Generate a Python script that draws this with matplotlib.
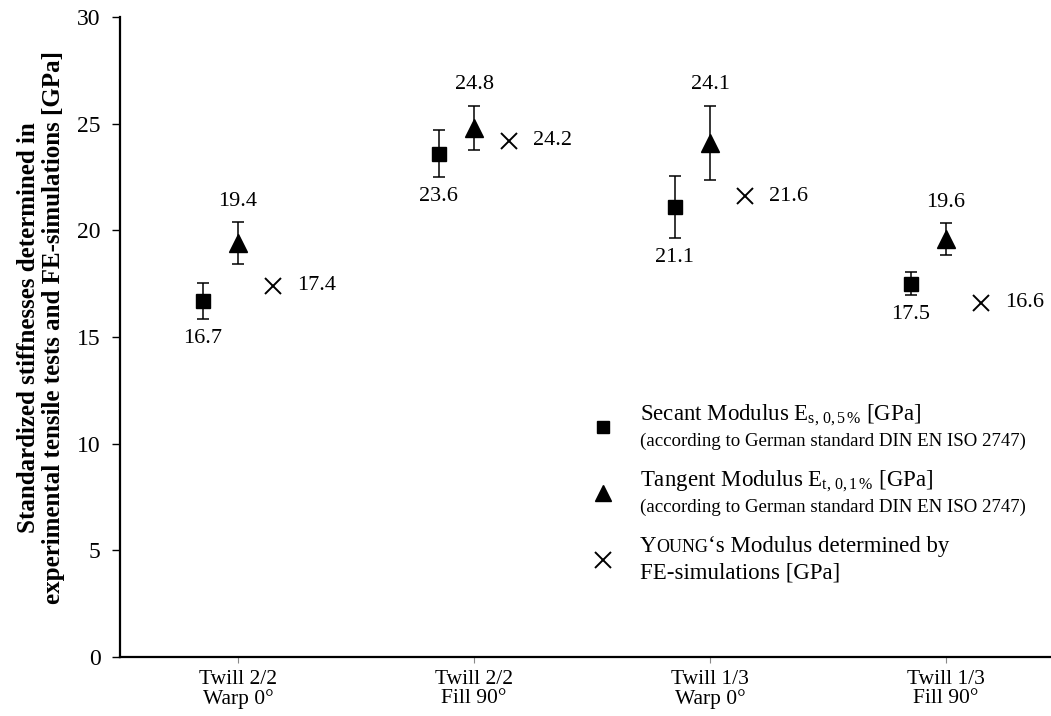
import numpy as np
import matplotlib
matplotlib.use("Agg")
import matplotlib.pyplot as plt

plt.rcParams.update({"font.family": "Liberation Serif",
                     "mathtext.fontset": "custom",
                     "mathtext.rm": "Liberation Serif",
                     "mathtext.it": "Liberation Serif:italic",
                     "mathtext.bf": "Liberation Serif:bold"})

# ── Data ──────────────────────────────────────────────────────────────────────
categories  = ["Twill 2/2\nWarp 0°", "Twill 2/2\nFill 90°",
               "Twill 1/3\nWarp 0°", "Twill 1/3\nFill 90°"]
secant      = [16.7, 23.6, 21.1, 17.5]
secant_err  = [0.85, 1.1, 1.45, 0.55]
tangent     = [19.4, 24.8, 24.1, 19.6]
tangent_err = [1.0, 1.05, 1.75, 0.75]
young       = [17.4, 24.2, 21.6, 16.6]

W, H = 1051, 716
fig = plt.figure(figsize=(W / 100, H / 100), dpi=100)
ax = fig.add_axes([120 / W, 59 / H, 931 / W, 640 / H])

x = np.arange(len(categories)) + 0.5
dx = 0.15

ax.errorbar(x - dx, secant, yerr=secant_err, fmt="s", color="black", ms=9.5,
            ecolor="black", elinewidth=1.1, capsize=4, capthick=1.1)
ax.errorbar(x, tangent, yerr=tangent_err, fmt="^", color="black", ms=12.5,
            ecolor="black", elinewidth=1.1, capsize=4, capthick=1.1)
ax.plot(x + dx, young, "x", color="black", ms=12, mew=1.4, ls="none")

fs = 16
for xi, v, e in zip(x - dx, secant, secant_err):
    ax.annotate(f"{v:.1f}", (xi, v - e), xytext=(0, -7), textcoords="offset points",
                ha="center", va="top", fontsize=fs)
for xi, v, e in zip(x, tangent, tangent_err):
    ax.annotate(f"{v:.1f}", (xi, v + e), xytext=(0, 8), textcoords="offset points",
                ha="center", va="bottom", fontsize=fs)
for xi, v in zip(x + dx, young):
    ax.annotate(f"{v:.1f}", (xi, v), xytext=(17, 0), textcoords="offset points",
                ha="left", va="center", fontsize=fs)

ax.set_xlim(0, 931 / 236)
ax.set_ylim(0, 30)
ax.set_yticks(range(0, 31, 5))
ax.set_xticks(x)
ax.set_xticklabels(categories, fontsize=15.5, linespacing=1.05)
ax.tick_params(axis="y", labelsize=17, length=6, width=1, pad=8)
ax.tick_params(axis="x", length=4, width=0.8, color="#888888", pad=5)
for s in ["top", "right"]:
    ax.spines[s].set_visible(False)
for s in ["left", "bottom"]:
    ax.spines[s].set_linewidth(1.6)

fig.text(41 / W, 1 - 328 / H,
         "Standardized stiffnesses determined in\n"
         "experimental tensile tests and FE-simulations [GPa]",
         rotation=90, ha="center", va="center", fontsize=18,
         fontweight="bold", multialignment="center", linespacing=1.12)

# ── Legend (drawn by hand) ────────────────────────────────────────────────────
def fx(px):
    return px / W
def fy(py):
    return 1 - py / H

mk_x = fx(603)
fig.lines.append(plt.Line2D([mk_x], [fy(427)], marker="s", ms=9, color="black",
                            ls="none", transform=fig.transFigure))
fig.lines.append(plt.Line2D([mk_x], [fy(493)], marker="^", ms=11, color="black",
                            ls="none", transform=fig.transFigure))
fig.lines.append(plt.Line2D([mk_x], [fy(560)], marker="x", ms=12, mew=1.4,
                            color="black", ls="none", transform=fig.transFigure))

tx = fx(640)
fig.text(tx, fy(415), r"Secant Modulus E$_{\mathrm{s,\,0,5\,\%}}$ [GPa]",
         fontsize=16.5, va="center")
fig.text(tx, fy(441), "(according to German standard DIN EN ISO 2747)",
         fontsize=13.6, va="center")
fig.text(tx, fy(481), r"Tangent Modulus E$_{\mathrm{t,\,0,1\,\%}}$ [GPa]",
         fontsize=16.5, va="center")
fig.text(tx, fy(507), "(according to German standard DIN EN ISO 2747)",
         fontsize=13.6, va="center")

renderer = fig.canvas.get_renderer()
base = fy(552)
t1 = fig.text(tx, base, "Y", fontsize=16.5, va="baseline")
x1 = fig.transFigure.inverted().transform((t1.get_window_extent(renderer).x1, 0))[0]
t2 = fig.text(x1, base, "OUNG", fontsize=13, va="baseline")
x2 = fig.transFigure.inverted().transform((t2.get_window_extent(renderer).x1, 0))[0]
fig.text(x2, base, "\u2018s Modulus determined by", fontsize=16.5, va="baseline")
fig.text(tx, fy(579), "FE-simulations [GPa]", fontsize=16.5, va="baseline")

fig.savefig("out.png", dpi=100)
